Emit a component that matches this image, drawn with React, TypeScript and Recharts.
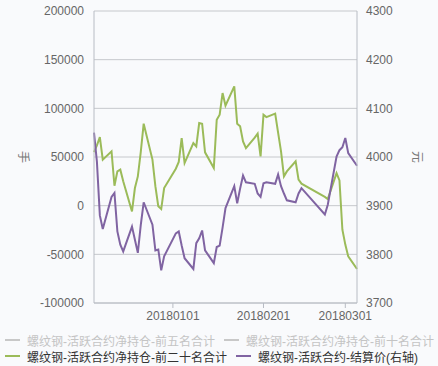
import { LineChart, Line, XAxis, YAxis, CartesianGrid } from 'recharts';

// trading days (yyyymmdd)
const dates = [
  '20171205', '20171206', '20171207', '20171208', '20171211', '20171212', '20171213', '20171214', '20171215',
  '20171218', '20171219', '20171220', '20171221', '20171222', '20171225', '20171226', '20171227', '20171228',
  '20171229', '20180102', '20180103', '20180104', '20180105', '20180108', '20180109', '20180110', '20180111',
  '20180112', '20180115', '20180116', '20180117', '20180118', '20180119', '20180122', '20180123', '20180124',
  '20180125', '20180126', '20180129', '20180130', '20180131', '20180201', '20180202', '20180205', '20180206',
  '20180207', '20180208', '20180209', '20180212', '20180213', '20180214', '20180222', '20180223', '20180226',
  '20180227', '20180228', '20180301', '20180302', '20180305',
];

// 螺纹钢-活跃合约净持仓-前二十名合计 (手)
const top20Net = [
  55000, 62000, 70500, 47300, 55800, 20500, 35200, 37000, 25000,
  -5900, 18100, 30100, 55000, 84200, 47300, 20000, -700, -3500,
  18100, 38000, 45000, 69500, 43800, 64300, 60900, 84900, 84200,
  54800, 38600, 88300, 93500, 115700, 102700, 122600, 84200, 81500,
  66100, 59200, 70000, 74000, 50600, 93500, 91000, 94500, 75000,
  55800, 30100, 35200, 45500, 26700, 22600, 9000, 6800, 33500,
  26000, -24700, -40000, -52100, -65100,
];

// 螺纹钢-活跃合约-结算价 (元, right axis)
const settlePrice = [
  4050, 3990, 3880, 3852, 3918, 3926, 3847, 3820, 3806,
  3857, 3830, 3803, 3860, 3907, 3861, 3808, 3810, 3767,
  3796, 3843, 3847, 3818, 3792, 3770, 3823, 3833, 3849,
  3808, 3782, 3815, 3818, 3855, 3895, 3940, 3905, 3935,
  3962, 3948, 3945, 3925, 3918, 3946, 3948, 3945, 3964,
  3940, 3925, 3911, 3907, 3925, 3936, 3882, 3902, 4001,
  4014, 4020, 4039, 4008, 3982,
];

const xTickLabels = ['20180101', '20180201', '20180301'];
const leftTicks = [-100000, -50000, 0, 50000, 100000, 150000, 200000];
const rightTicks = [3700, 3800, 3900, 4000, 4100, 4200, 4300];

const legendRows = [
  [
    { name: '螺纹钢-活跃合约净持仓-前五名合计', color: '#c8c8c8', active: false },
    { name: '螺纹钢-活跃合约净持仓-前十名合计', color: '#c8c8c8', active: false },
  ],
  [
    { name: '螺纹钢-活跃合约净持仓-前二十名合计', color: '#9bbb59', active: true },
    { name: '螺纹钢-活跃合约-结算价(右轴)', color: '#8064a2', active: true },
  ],
];

const toTime = (s: string) => Date.UTC(+s.slice(0, 4), +s.slice(4, 6) - 1, +s.slice(6, 8));
const fmtDate = (t: number) => {
  const d = new Date(t);
  const m = String(d.getUTCMonth() + 1).padStart(2, '0');
  const day = String(d.getUTCDate()).padStart(2, '0');
  return `${d.getUTCFullYear()}${m}${day}`;
};

const data = dates.map((d, i) => ({ t: toTime(d), top20: top20Net[i], price: settlePrice[i] }));

const FONT = '"Liberation Sans", "Noto Sans CJK SC", sans-serif';
const tickStyle = { fill: '#666', fontSize: 12, fontFamily: FONT };
const axisColor = '#b8bcc4';

const AxisName = ({ viewBox, text, dx }: any) => {
  const x = viewBox.x + dx;
  const y = viewBox.y + viewBox.height / 2;
  return (
    <text x={x} y={y} transform={`rotate(90 ${x} ${y})`} textAnchor="middle" dominantBaseline="central"
      fill="#777" fontSize={12} fontFamily={FONT}>
      {text}
    </text>
  );
};

export default function App() {
  return (
    <div style={{ position: 'absolute', left: 0, top: 0, width: 438, height: 366, background: '#f9fafc', fontFamily: FONT }}>
      <LineChart width={438} height={332} data={data} margin={{ top: 11, right: 0, bottom: 0, left: 0 }}>
        <CartesianGrid yAxisId="left" vertical={false} stroke="#c6c8cc" />
        <XAxis
          dataKey="t"
          type="number"
          scale="time"
          domain={[toTime(dates[0]), toTime(dates[dates.length - 1])]}
          ticks={xTickLabels.map(toTime)}
          tickFormatter={fmtDate}
          height={29}
          stroke={axisColor}
          tickSize={5}
          tickMargin={3}
          tick={tickStyle}
        />
        <YAxis
          yAxisId="left"
          width={94}
          domain={[-100000, 200000]}
          ticks={leftTicks}
          stroke={axisColor}
          tickLine={false}
          tickSize={0}
          tickMargin={10}
          tick={tickStyle}
          label={(p: any) => <AxisName {...p} text="手" dx={23} />}
        />
        <YAxis
          yAxisId="right"
          orientation="right"
          width={81}
          domain={[3700, 4300]}
          ticks={rightTicks}
          stroke={axisColor}
          tickLine={false}
          tickSize={0}
          tickMargin={9}
          tick={tickStyle}
          label={(p: any) => <AxisName {...p} text="元" dx={60} />}
        />
        <Line yAxisId="left" dataKey="top20" stroke="#9bbb59" strokeWidth={2} dot={false} isAnimationActive={false} />
        <Line yAxisId="right" dataKey="price" stroke="#8064a2" strokeWidth={2} dot={false} isAnimationActive={false} />
      </LineChart>
      <div style={{ position: 'absolute', left: 5, top: 332, fontSize: 12 }}>
        {legendRows.map((row, ri) => (
          <div key={ri} style={{ display: 'flex', height: 16, alignItems: 'center', whiteSpace: 'nowrap' }}>
            {row.map((item) => (
              <div key={item.name} style={{ display: 'flex', alignItems: 'center', marginRight: 9 }}>
                <span style={{ width: 15, height: 2, background: item.color, marginRight: 7 }} />
                <span style={{ color: item.active ? '#333' : '#c4c4c4' }}>{item.name}</span>
              </div>
            ))}
          </div>
        ))}
      </div>
    </div>
  );
}
